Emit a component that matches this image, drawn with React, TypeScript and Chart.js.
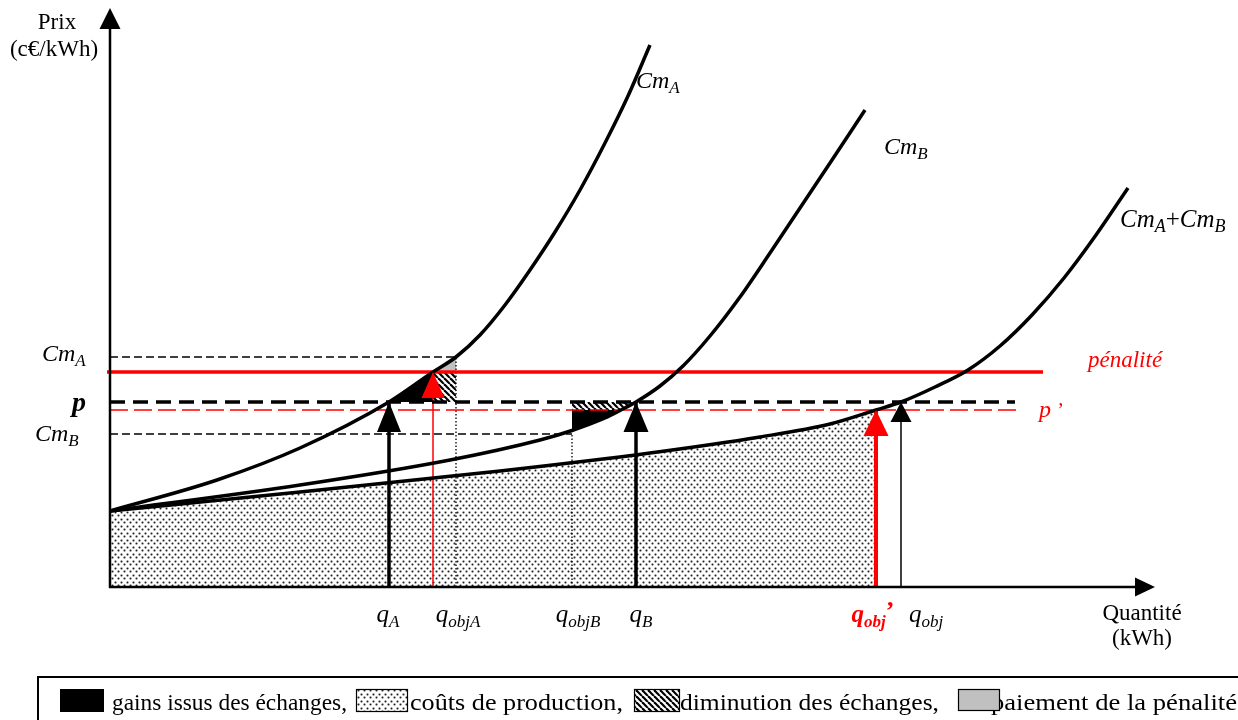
import React, { useEffect, useRef } from "react";
import { Chart, registerables } from "chart.js";

Chart.register(...registerables);

// ---------- axis extents (quantity / price, arbitrary units) ----------
const X_MAX = 104.5;
const Y_MAX = 57.9;

// ---------- quantities ----------
const qA = 27.9;
const qObjA = 32.3;
const qObjAEdge = 34.6;
const qObjB = 46.2;
const qCrossB = 51.1; // where Cm_B meets p'
const qB = 52.6;
const qObjPrime = 76.6;
const qObj = 79.1;

// ---------- prices ----------
const priceCmA = 23.0;
const penalty = 21.5;
const p = 18.5;
const pPrime = 17.7;
const priceCmB = 15.3;

// ---------- marginal cost curves ----------
const cmAX = [0, 10.7, 19, 27.9, 32.3, 34.6, 37, 39.5, 42, 44.5, 47, 49.5, 51.8, 54];
const cmAY = [7.6, 10.7, 13.9, 18.5, 21.5, 23.0, 25.2, 28.2, 31.7, 35.5, 39.7, 44.4, 49.1, 54.2];
const cmBX = [0, 19, 34, 43, 46.2, 49.5, 51.1, 52.6, 55, 57.3, 60, 63, 66, 69, 72.2, 75.5];
const cmBY = [7.6, 10.2, 12.7, 14.7, 15.65, 16.9, 17.7, 18.5, 20.1, 22.1, 25.1, 29.0, 33.4, 37.9, 42.7, 47.7];
const sumX = [0, 19, 39, 54, 65, 72, 76.6, 79.1, 82.5, 85.8, 89, 92.2, 95.4, 98.6, 101.8];
const sumY = [7.6, 9.5, 11.6, 13.4, 15.0, 16.3, 17.7, 18.5, 20.0, 21.7, 24.1, 27.2, 30.9, 35.2, 39.9];

// right ends of the horizontal price lines
const penaltyEnd = 93.3;
const pEnd = 90.5;
const pPrimeEnd = 91.0;

// ---------- text ----------
const yTitle = ["Prix", "(c€/kWh)"];
const xTitle = ["Quantité", "(kWh)"];
const qTickValues = [qA, qObjAEdge, qObjB, qB, qObjPrime, qObj];
const qTickSubs = ["A", "objA", "objB", "B", "obj", "obj"];
const legendTexts = [
  "gains issus des échanges,",
  "coûts de production,",
  "diminution des échanges,",
  "paiement de la pénalité",
];

const pts = (xs: number[], ys: number[]) => xs.map((x, i) => ({ x, y: ys[i] }));
const FONT = '"Liberation Serif", "Times New Roman", serif';
const RED = "#ff0000";

type Run = { t: string; size: number; italic?: boolean; bold?: boolean; dy?: number; color?: string };

function drawRuns(ctx: CanvasRenderingContext2D, x: number, y: number, rs: Run[], align: "left" | "center" = "left") {
  const f = (r: Run) => `${r.italic ? "italic " : ""}${r.bold ? "bold " : ""}${r.size}px ${FONT}`;
  let w = 0;
  for (const r of rs) {
    ctx.font = f(r);
    w += ctx.measureText(r.t).width;
  }
  let cx = align === "center" ? x - w / 2 : x;
  ctx.textAlign = "left";
  ctx.textBaseline = "alphabetic";
  for (const r of rs) {
    ctx.font = f(r);
    ctx.fillStyle = r.color || "#000";
    ctx.fillText(r.t, cx, y + (r.dy || 0));
    cx += ctx.measureText(r.t).width;
  }
}

// text fitted to a given width (light horizontal scaling)
function drawFitted(ctx: CanvasRenderingContext2D, text: string, x: number, y: number, width: number, size: number) {
  ctx.save();
  ctx.font = `${size}px ${FONT}`;
  ctx.fillStyle = "#000";
  ctx.textAlign = "left";
  ctx.textBaseline = "alphabetic";
  const w = ctx.measureText(text).width;
  ctx.translate(x, y);
  ctx.scale(width / w, 1);
  ctx.fillText(text, 0, 0);
  ctx.restore();
}

function tri(ctx: CanvasRenderingContext2D, x: number, y: number, dir: "up" | "right", len: number, half: number, color: string) {
  ctx.save();
  ctx.fillStyle = color;
  ctx.beginPath();
  if (dir === "up") {
    ctx.moveTo(x, y);
    ctx.lineTo(x - half, y + len);
    ctx.lineTo(x + half, y + len);
  } else {
    ctx.moveTo(x, y);
    ctx.lineTo(x - len, y - half);
    ctx.lineTo(x - len, y + half);
  }
  ctx.closePath();
  ctx.fill();
  ctx.restore();
}

function makeDots(): CanvasPattern {
  const c = document.createElement("canvas");
  c.width = 6;
  c.height = 7;
  const g = c.getContext("2d")!;
  g.fillStyle = "#fff";
  g.fillRect(0, 0, 6, 7);
  const dot = (cx: number, cy: number) => {
    g.fillStyle = "#e2e2e2";
    g.fillRect(cx - 1, cy - 1, 3, 3);
    g.fillStyle = "#9a9a9a";
    g.fillRect(cx - 1, cy, 3, 1);
    g.fillRect(cx, cy - 1, 1, 3);
    g.fillStyle = "#222";
    g.fillRect(cx, cy, 1, 1);
  };
  dot(1, 1);
  dot(4, 4);
  return g.createPattern(c, "repeat")!;
}

function makeHatch(): CanvasPattern {
  const c = document.createElement("canvas");
  c.width = 6;
  c.height = 6;
  const g = c.getContext("2d")!;
  g.fillStyle = "#fff";
  g.fillRect(0, 0, 6, 6);
  g.strokeStyle = "#000";
  g.lineWidth = 2.2;
  for (const x0 of [-6, 0, 6]) {
    g.beginPath();
    g.moveTo(x0, 0);
    g.lineTo(x0 + 6, 6);
    g.stroke();
  }
  return g.createPattern(c, "repeat")!;
}

export default function App() {
  const ref = useRef<HTMLCanvasElement>(null);

  useEffect(() => {
    const canvas = ref.current!;
    const dots = makeDots();
    const hatch = makeHatch();

    const line = (data: any[], color: string, width: number, extra: any = {}) => ({
      data,
      borderColor: color,
      borderWidth: width,
      pointRadius: 0,
      fill: false,
      clip: false,
      order: 1,
      ...extra,
    });
    const area = (data: any[], bg: any, fill: any, extra: any = {}) => ({
      data,
      borderColor: "transparent",
      borderWidth: 0,
      backgroundColor: bg,
      pointRadius: 0,
      fill,
      clip: false,
      order: 5,
      ...extra,
    });

    const iStartB = cmBX.indexOf(qObjB);
    const iEndB = cmBX.indexOf(qCrossB);
    const iPrime = sumX.indexOf(qObjPrime);

    const overlay = {
      id: "overlay",
      afterDatasetsDraw(chart: any) {
        const ctx: CanvasRenderingContext2D = chart.ctx;
        const xs = (v: number) => chart.scales.x.getPixelForValue(v);
        const ys = (v: number) => chart.scales.y.getPixelForValue(v);
        const ca = chart.chartArea;
        const x0 = xs(0);
        const y0 = ys(0);

        // axes
        ctx.save();
        ctx.strokeStyle = "#000";
        ctx.lineWidth = 2.5;
        ctx.beginPath();
        ctx.moveTo(x0, y0 + 1);
        ctx.lineTo(x0, ca.top + 18);
        ctx.moveTo(x0 - 1, y0);
        ctx.lineTo(ca.right - 18, y0);
        ctx.stroke();
        ctx.restore();
        tri(ctx, x0, ca.top, "up", 21, 10.5, "#000");
        tri(ctx, ca.right, y0, "right", 20, 9.5, "#000");

        // quantity arrowheads
        tri(ctx, xs(qA), ys(p), "up", 30, 12, "#000");
        tri(ctx, xs(qObjA), ys(penalty), "up", 26, 11.5, RED);
        tri(ctx, xs(qB), ys(p), "up", 30, 12.5, "#000");
        tri(ctx, xs(qObjPrime), ys(pPrime), "up", 26, 12.5, RED);
        tri(ctx, xs(qObj), ys(p), "up", 20, 10.5, "#000");

        // axis titles
        drawRuns(ctx, 57, 29, [{ t: yTitle[0], size: 23 }], "center");
        drawRuns(ctx, 54, 56, [{ t: yTitle[1], size: 23 }], "center");
        drawRuns(ctx, 1142, 620, [{ t: xTitle[0], size: 23 }], "center");
        drawRuns(ctx, 1142, 645, [{ t: xTitle[1], size: 23 }], "center");

        // price labels on the y side
        drawRuns(ctx, 42, ys(priceCmA) + 4, [
          { t: "Cm", size: 24, italic: true },
          { t: "A", size: 17, italic: true, dy: 5 },
        ]);
        drawRuns(ctx, 72, ys(p) + 9, [{ t: "p", size: 28, italic: true, bold: true }]);
        drawRuns(ctx, 35, ys(priceCmB) + 7, [
          { t: "Cm", size: 24, italic: true },
          { t: "B", size: 17, italic: true, dy: 5 },
        ]);
        drawRuns(ctx, 1088, ys(penalty) - 5, [{ t: "pénalité", size: 23, italic: true, color: RED }]);
        drawRuns(ctx, 1039, ys(pPrime) + 7, [
          { t: "p", size: 24, italic: true, color: RED },
          { t: " ’", size: 20, italic: true, color: RED },
        ]);

        // curve labels
        drawRuns(ctx, 636, 88, [
          { t: "Cm", size: 24, italic: true },
          { t: "A", size: 17, italic: true, dy: 5 },
        ]);
        drawRuns(ctx, 884, 154, [
          { t: "Cm", size: 24, italic: true },
          { t: "B", size: 17, italic: true, dy: 5 },
        ]);
        drawRuns(ctx, 1120, 227, [
          { t: "Cm", size: 25, italic: true },
          { t: "A", size: 18, italic: true, dy: 5 },
          { t: "+", size: 25 },
          { t: "Cm", size: 25, italic: true },
          { t: "B", size: 18, italic: true, dy: 5 },
        ]);

        // quantity labels
        const offs = [-1, 2, 6, 5, -3, 25];
        qTickValues.forEach((q, i) => {
          const red = i === 4;
          const rs: Run[] = [
            { t: "q", size: 25, italic: true, bold: red, color: red ? RED : "#000" },
            { t: qTickSubs[i], size: 17, italic: true, bold: red, dy: 5, color: red ? RED : "#000" },
          ];
          if (red) rs.push({ t: "’", size: 26, bold: true, color: RED, dy: -3 });
          drawRuns(ctx, xs(q) + offs[i], 622, rs, "center");
        });

        // legend box
        ctx.save();
        ctx.strokeStyle = "#000";
        ctx.lineWidth = 2;
        ctx.strokeRect(38, 677, 1400, 200);
        const ly = 710;
        drawFitted(ctx, legendTexts[0], 112, ly, 235, 24);
        drawFitted(ctx, legendTexts[1], 410, ly, 213, 24);
        drawFitted(ctx, legendTexts[2], 680, ly, 259, 24);
        drawFitted(ctx, legendTexts[3], 991, ly, 246, 24);
        ctx.lineWidth = 1.2;
        ctx.fillStyle = "#000";
        ctx.fillRect(60, 689, 44, 23);
        ctx.fillStyle = dots;
        ctx.fillRect(356, 689, 52, 22);
        ctx.strokeRect(356.5, 689.5, 51, 22);
        ctx.fillStyle = hatch;
        ctx.fillRect(634, 689, 46, 23);
        ctx.strokeRect(634.5, 689.5, 45, 22);
        ctx.fillStyle = "#c0c0c0";
        ctx.fillRect(958, 689, 42, 22);
        ctx.strokeRect(958.5, 689.5, 41, 21);
        ctx.restore();
      },
    };

    const chart = new Chart(canvas, {
      type: "line",
      data: {
        datasets: [
          // curves
          line(pts(cmAX, cmAY), "#000", 3.5, { cubicInterpolationMode: "monotone" }),
          line(pts(cmBX, cmBY), "#000", 3.5, { cubicInterpolationMode: "monotone" }),
          line(pts(sumX, sumY), "#000", 3.5, { cubicInterpolationMode: "monotone" }),
          // horizontal price levels
          line([{ x: 0, y: priceCmA }, { x: qObjAEdge, y: priceCmA }], "#000", 1.4, { borderDash: [8, 4] }),
          line([{ x: -0.3, y: penalty }, { x: penaltyEnd, y: penalty }], RED, 3.5),
          line([{ x: 0, y: p }, { x: pEnd, y: p }], "#000", 3.5, { borderDash: [15, 8] }),
          line([{ x: 0, y: pPrime }, { x: pPrimeEnd, y: pPrime }], RED, 1.5, { borderDash: [18, 6] }),
          line([{ x: 0, y: priceCmB }, { x: qObjB, y: priceCmB }], "#000", 1.4, { borderDash: [8, 4] }),
          // verticals
          line([{ x: qObjAEdge, y: 0 }, { x: qObjAEdge, y: priceCmA }], "#000", 1.3, { borderDash: [1.5, 2] }),
          line([{ x: qObjB, y: 0 }, { x: qObjB, y: priceCmB }], "#000", 1.3, { borderDash: [1.5, 2] }),
          line([{ x: qA, y: 0 }, { x: qA, y: p }], "#000", 3.5),
          line([{ x: qObjA, y: 0 }, { x: qObjA, y: penalty }], RED, 1.5),
          line([{ x: qB, y: 0 }, { x: qB, y: p }], "#000", 3.5),
          line([{ x: qObjPrime, y: 0 }, { x: qObjPrime, y: pPrime }], RED, 4),
          line([{ x: qObj, y: 0 }, { x: qObj, y: p }], "#000", 1.5),
          // areas
          area(pts(sumX.slice(0, iPrime + 1), sumY.slice(0, iPrime + 1)), dots, "origin", {
            cubicInterpolationMode: "monotone",
            order: 8,
          }),
          area([{ x: qA, y: p }, { x: qObjA, y: penalty }], "#000", { value: p }),
          area([{ x: qObjA, y: penalty }, { x: qObjAEdge, y: priceCmA }], "#c0c0c0", { value: penalty }),
          area([{ x: qObjA, y: penalty }, { x: qObjAEdge, y: penalty }], hatch, { value: p }),
          area([{ x: qObjB, y: pPrime }, { x: qCrossB, y: pPrime }, { x: qB, y: p }], hatch, { value: p }),
          area(pts(cmBX.slice(iStartB, iEndB + 1), cmBY.slice(iStartB, iEndB + 1)), "#000", { value: pPrime }),
        ] as any,
      },
      options: {
        animation: false,
        responsive: false,
        events: [],
        layout: { padding: { left: 110, right: 83, top: 8, bottom: 133 } },
        scales: {
          x: { type: "linear", min: 0, max: X_MAX, display: false },
          y: { type: "linear", min: 0, max: Y_MAX, display: false },
        },
        plugins: { legend: { display: false }, tooltip: { enabled: false } },
      } as any,
      plugins: [overlay],
    });
    return () => chart.destroy();
  }, []);

  return (
    <div style={{ position: "absolute", left: 0, top: 0, width: 1238, height: 720, background: "#fff" }}>
      <canvas ref={ref} width={1238} height={720} style={{ display: "block", width: 1238, height: 720 }} />
    </div>
  );
}
